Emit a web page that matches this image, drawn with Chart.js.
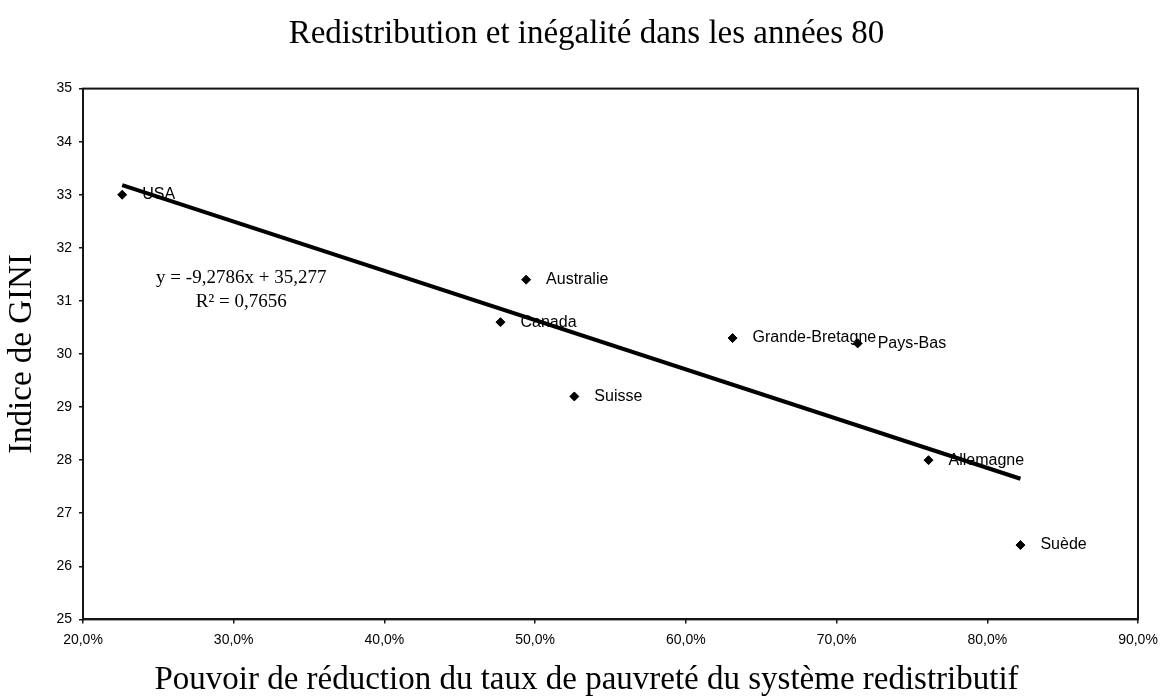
<!DOCTYPE html>
<html lang="fr">
<head>
<meta charset="utf-8">
<title>Redistribution et inégalité dans les années 80</title>
<script src="https://cdn.jsdelivr.net/npm/chart.js@4"></script>
<style>
    html, body { margin: 0; padding: 0; background: #ffffff; }
    .chart-box { width: 1173px; height: 700px; position: relative; }
</style>
</head>
<body>
<div class="chart-box"><canvas id="giniChart"></canvas></div>
<script>
// pays et valeurs (années 80)
const countries = ['USA', 'Australie', 'Canada', 'Suisse', 'Grande-Bretagne', 'Pays-Bas', 'Allemagne', 'Suède'];
const reduction = [0.226, 0.494, 0.477, 0.526, 0.631, 0.714, 0.761, 0.822];   // pouvoir de réduction de la pauvreté
const gini = [33.0, 31.4, 30.6, 29.2, 30.3, 30.2, 28.0, 26.4];               // indice de Gini

// graduations des axes
const xTickValues = [0.2, 0.3, 0.4, 0.5, 0.6, 0.7, 0.8, 0.9];
const yTickValues = [25, 26, 27, 28, 29, 30, 31, 32, 33, 34, 35];

// droite de régression linéaire
const trendSlope = -9.2786;
const trendIntercept = 35.277;
const rSquared = 0.7656;

const serif = '"Liberation Serif", "Times New Roman", serif';
const sans = '"Liberation Sans", Arial, sans-serif';

const frComma = (v, d) => v.toFixed(d).replace('.', ',');

const points = reduction.map((x, i) => ({ x: x, y: gini[i] }));
const xMin = Math.min(...reduction);
const xMax = Math.max(...reduction);
const trendPoints = [
    { x: xMin, y: trendIntercept + trendSlope * xMin },
    { x: xMax, y: trendIntercept + trendSlope * xMax }
];

// cadre autour de la zone de tracé
const plotFrame = {
    id: 'plotFrame',
    beforeDatasetsDraw(chart) {
        const { ctx, chartArea: a } = chart;
        ctx.save();
        ctx.strokeStyle = '#151515';
        ctx.lineWidth = 2;
        ctx.strokeRect(a.left, a.top, a.right - a.left, a.bottom - a.top);
        ctx.restore();
    }
};

// noms des pays à droite des points + équation de la tendance
const pointLabels = {
    id: 'pointLabels',
    afterDatasetsDraw(chart) {
        const { ctx, scales } = chart;
        const meta = chart.getDatasetMeta(0);
        ctx.save();
        ctx.fillStyle = '#000';
        ctx.font = '16px ' + sans;
        ctx.textAlign = 'left';
        ctx.textBaseline = 'middle';
        meta.data.forEach((pt, i) => {
            ctx.fillText(countries[i], pt.x + 20, pt.y);
        });

        ctx.font = '19px ' + serif;
        ctx.textAlign = 'center';
        const ex = scales.x.getPixelForValue(0.305);
        const sign = trendIntercept >= 0 ? ' + ' : ' - ';
        ctx.fillText('y = ' + frComma(trendSlope, 4) + 'x' + sign + frComma(Math.abs(trendIntercept), 3),
            ex, scales.y.getPixelForValue(31.43));
        ctx.fillText('R² = ' + frComma(rSquared, 4), ex, scales.y.getPixelForValue(30.98));
        ctx.restore();
    }
};

const canvas = document.getElementById('giniChart');

const giniChart = new Chart(canvas, {
    type: 'scatter',
    data: {
        datasets: [{
            label: 'Pays',
            data: points,
            pointStyle: 'rectRot',
            pointRadius: 4.5,
            pointHoverRadius: 4.5,
            backgroundColor: '#000',
            borderColor: '#000',
            borderWidth: 1,
            showLine: false
        }, {
            label: 'Tendance',
            data: trendPoints,
            showLine: true,
            borderColor: '#000',
            borderWidth: 4,
            pointRadius: 0,
            fill: false
        }]
    },
    options: {
        responsive: true,
        maintainAspectRatio: false,
        animation: false,
        layout: {
            padding: 0
        },
        scales: {
            x: {
                type: 'linear',
                position: 'bottom',
                min: 0.2,
                max: 0.9,
                afterBuildTicks: (scale) => { scale.ticks = xTickValues.map(v => ({ value: v })); },
                afterFit: (scale) => { scale.height = 41; },
                grid: {
                    drawOnChartArea: false,
                    drawTicks: true,
                    tickLength: 4,
                    color: '#151515',
                    lineWidth: 1.5
                },
                border: { display: true, color: '#151515', width: 2 },
                ticks: {
                    color: '#000',
                    padding: 8,
                    maxRotation: 0,
                    font: { family: sans, size: 14 },
                    callback: (v) => frComma(v * 100, 1) + '%'
                }
            },
            y: {
                type: 'linear',
                position: 'left',
                min: 25,
                max: 35,
                afterBuildTicks: (scale) => { scale.ticks = yTickValues.map(v => ({ value: v })); },
                afterFit: (scale) => { scale.width = 83; },
                grid: {
                    drawOnChartArea: false,
                    drawTicks: true,
                    tickLength: 4,
                    color: '#151515',
                    lineWidth: 1.5
                },
                border: { display: true, color: '#151515', width: 2 },
                ticks: {
                    color: '#000',
                    padding: 7,
                    font: { family: sans, size: 14 }
                },
                title: {
                    display: true,
                    text: 'Indice de GINI',
                    color: '#000',
                    padding: { top: 3, bottom: 0 },
                    font: { family: serif, size: 33, weight: 'normal' }
                }
            },
            // marge à droite du cadre (aucune graduation affichée)
            yRight: {
                type: 'linear',
                position: 'right',
                min: 25,
                max: 35,
                afterFit: (scale) => { scale.width = 35; },
                grid: { drawOnChartArea: false, drawTicks: false },
                border: { display: false },
                ticks: { display: false }
            }
        },
        plugins: {
            legend: { display: false },
            tooltip: { enabled: false },
            title: {
                display: true,
                text: 'Redistribution et inégalité dans les années 80',
                color: '#000',
                padding: { top: 15, bottom: 34 },
                font: { family: serif, size: 33, weight: 'normal' }
            },
            subtitle: {
                display: true,
                position: 'bottom',
                text: 'Pouvoir de réduction du taux de pauvreté du système redistributif',
                color: '#000',
                padding: { top: 0, bottom: 0 },
                font: { family: serif, size: 33, weight: 'normal' }
            }
        }
    },
    plugins: [plotFrame, pointLabels]
});
</script>
</body>
</html>
